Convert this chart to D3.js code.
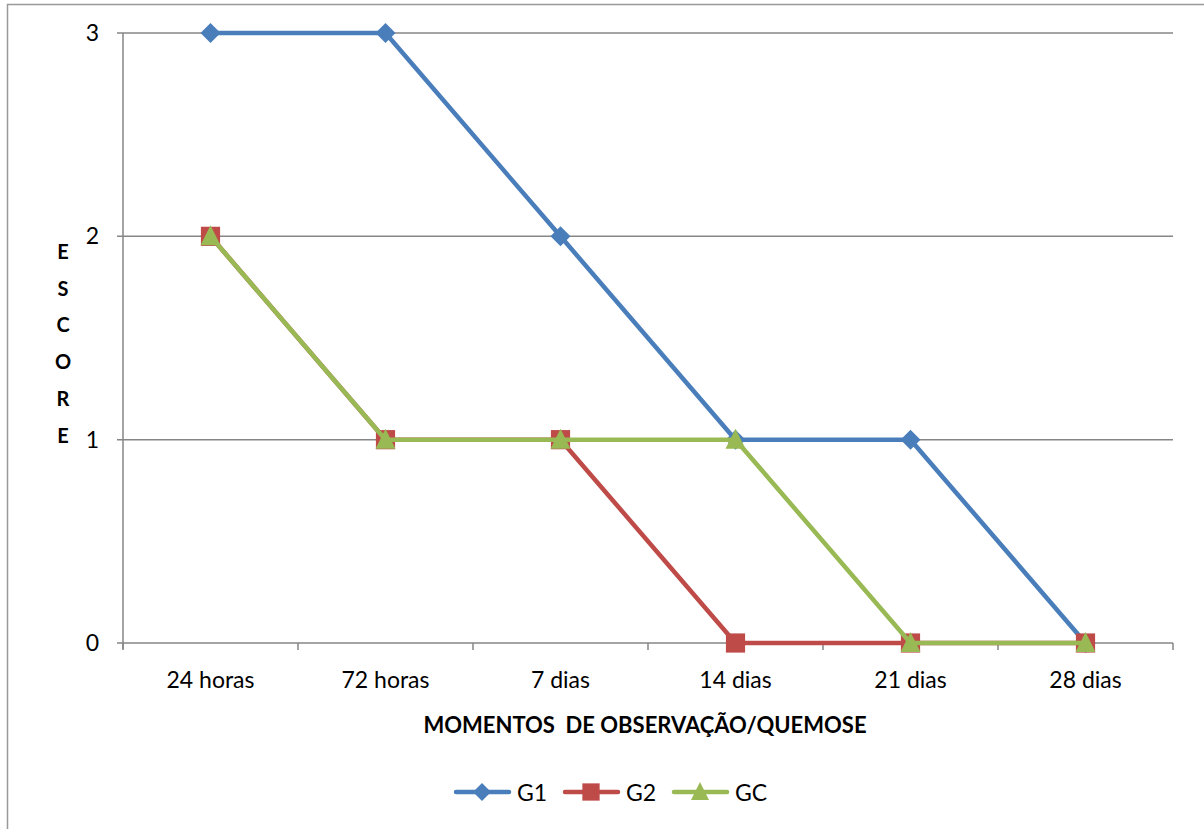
<!DOCTYPE html>
<html><head><meta charset="utf-8">
<script src="https://cdn.jsdelivr.net/npm/d3@7"></script>
<style>body{margin:0;background:#fff}svg{display:block}text{font-family:Lato,"Open Sans",sans-serif;fill:#000}</style>
</head><body>
<svg id="c" width="1204" height="829"></svg>
<script>
const categories = ["24 horas","72 horas","7 dias","14 dias","21 dias","28 dias"];
const seriesNames = ["G1","G2","GC"];
const g1 = [3,3,2,1,1,0];
const g2 = [2,1,1,0,0,0];
const gc = [2,1,1,1,0,0];
const yTicks = [0,1,2,3];
const colors = ["#4A7EBB","#BE4B48","#98B954"];
const seriesValues = [g1,g2,gc];

function markerPath(k, s){
  if(k===0){ const h=s/2; return `M0,${-h}L${h},0L0,${h}L${-h},0Z`; }
  if(k===1){ const h=s*0.48; return `M${-h},${-h}H${h}V${h}H${-h}Z`; }
  const w=s/2; return `M0,${-s*0.55}L${w},${s*0.45}L${-w},${s*0.45}Z`;
}

const svg = d3.select("#c");
svg.append("rect").attr("x",7.5).attr("y",4.5).attr("width",1220).attr("height",840)
  .attr("fill","none").attr("stroke","#999").attr("stroke-width",1.5);

const L=123,R=1173,T=33,B=643;
const x = d3.scaleBand().domain(categories).range([L,R]);
const y = d3.scaleLinear().domain([0,3]).range([B,T]);
const grid="#868686";

svg.append("g").selectAll("line").data(yTicks).join("line")
  .attr("x1",L-6).attr("x2",R).attr("y1",d=>y(d)).attr("y2",d=>y(d))
  .attr("stroke",grid).attr("stroke-width",1.5);
svg.append("line").attr("x1",L).attr("x2",L).attr("y1",T).attr("y2",B+6).attr("stroke",grid).attr("stroke-width",1.5);
const bounds = categories.map(c=>x(c)).concat([R]);
svg.append("g").selectAll("line").data(bounds).join("line")
  .attr("x1",d=>d).attr("x2",d=>d).attr("y1",B).attr("y2",B+7).attr("stroke",grid).attr("stroke-width",1.5);
svg.append("g").selectAll("text").data(yTicks).join("text")
  .attr("x",99).attr("y",d=>y(d)+8).attr("text-anchor","end").attr("font-size",23).text(d=>d);
svg.append("g").selectAll("text").data(categories).join("text")
  .attr("x",d=>x(d)+x.bandwidth()/2).attr("y",688).attr("text-anchor","middle").attr("font-size",23).text(d=>d);
svg.append("text").attr("x",645).attr("y",733).attr("text-anchor","middle").attr("font-size",22).attr("font-weight","bold")
  .attr("xml:space","preserve").text("MOMENTOS  DE OBSERVAÇÃO/QUEMOSE");
const yl="ESCORE".split("");
svg.append("g").selectAll("text").data(yl).join("text")
  .attr("x",63).attr("y",(d,i)=>259+i*36.7).attr("text-anchor","middle").attr("font-size",20).attr("font-weight","bold").text(d=>d);

const line = d3.line().x((d,i)=>x(categories[i])+x.bandwidth()/2).y(d=>y(d));
seriesValues.forEach((vals,k)=>{
  const g=svg.append("g");
  g.append("path").attr("d",line(vals)).attr("fill","none").attr("stroke",colors[k]).attr("stroke-width",4.5).attr("stroke-linejoin","round");
  g.selectAll("path.m").data(vals).join("path").attr("class","m")
    .attr("transform",(d,i)=>`translate(${x(categories[i])+x.bandwidth()/2},${y(d)})`)
    .attr("d",markerPath(k,20)).attr("fill",colors[k]);
});

const lx=[454,563,672];
seriesNames.forEach((n,k)=>{
  const g=svg.append("g");
  g.append("line").attr("x1",lx[k]+2).attr("x2",lx[k]+55).attr("y1",792).attr("y2",792).attr("stroke",colors[k]).attr("stroke-width",4.5).attr("stroke-linecap","round");
  g.append("path").attr("transform",`translate(${lx[k]+28},792)`).attr("d",markerPath(k,18)).attr("fill",colors[k]);
  g.append("text").attr("x",lx[k]+63).attr("y",801).attr("font-size",23).text(n);
});
</script>
</body></html>
